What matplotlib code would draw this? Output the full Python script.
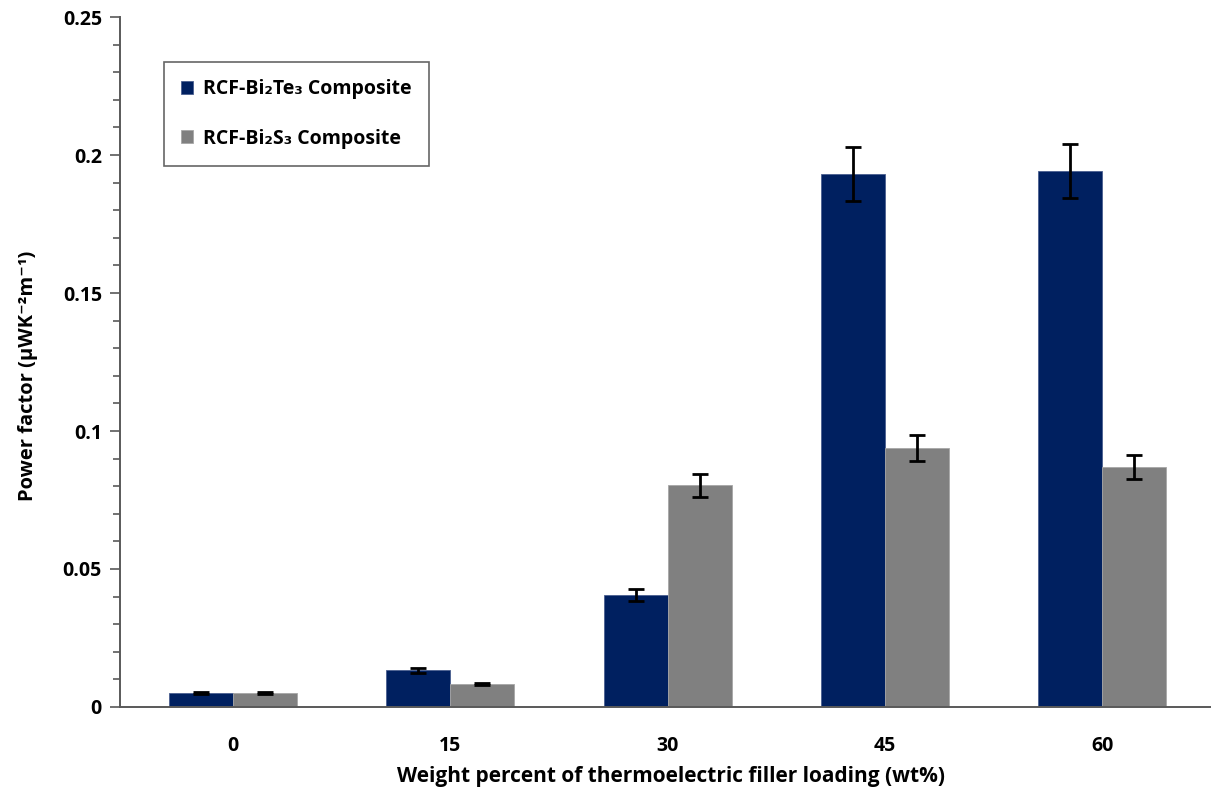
import numpy as np
import matplotlib.pyplot as plt
from matplotlib.ticker import MultipleLocator, FixedLocator

plt.rcParams["font.family"] = ["Open Sans", "DejaVu Sans"]
plt.rcParams["font.weight"] = "bold"

# Power factor vs filler loading, mean ± error for both composites
loadings = ["0", "15", "30", "45", "60"]
te_pf = [0.0050, 0.0133, 0.0406, 0.1931, 0.1942]
te_err = [0.0004, 0.0010, 0.0021, 0.0097, 0.0097]
s_pf = [0.0051, 0.0083, 0.0803, 0.0938, 0.0870]
s_err = [0.0004, 0.0005, 0.0041, 0.0047, 0.0043]

BLUE = "#002060"
GRAY = "#808080"

fig = plt.figure(figsize=(12.11, 7.91), dpi=100)
ax = fig.add_axes([0.0991, 0.1062, 0.9009, 0.8723])

x = np.arange(len(loadings))
w = 0.295
err_kw = dict(ecolor="black", elinewidth=2, capsize=5.5, capthick=2)
ax.bar(x - w / 2, te_pf, w, yerr=te_err, color=BLUE, edgecolor="#4a5f8f",
       linewidth=0.6, error_kw=err_kw, label="RCF-Bi₂Te₃ Composite")
ax.bar(x + w / 2, s_pf, w, yerr=s_err, color=GRAY, edgecolor="#a6a6a6",
       linewidth=0.6, error_kw=err_kw, label="RCF-Bi₂S₃ Composite")

ax.set_xlim(-0.52, len(loadings) - 0.5)
ax.set_ylim(0, 0.25)
ax.set_xticks(x)
ax.set_xticklabels(loadings)
ax.yaxis.set_major_locator(FixedLocator([0, 0.05, 0.1, 0.15, 0.2, 0.25]))
ax.yaxis.set_minor_locator(MultipleLocator(0.01))
ax.set_yticklabels(["0", "0.05", "0.1", "0.15", "0.2", "0.25"])

for s in ("top", "right"):
    ax.spines[s].set_visible(False)
for s in ("left", "bottom"):
    ax.spines[s].set_color("#595959")
    ax.spines[s].set_linewidth(1.4)

ax.tick_params(axis="x", length=0, pad=21, labelsize=14)
ax.tick_params(axis="y", which="major", length=7, width=1.2, color="#595959",
               labelsize=14, pad=6)
ax.tick_params(axis="y", which="minor", length=5, width=1.2, color="#595959")

ax.set_xlabel("Weight percent of thermoelectric filler loading (wt%)",
              fontsize=15, fontweight="bold")
ax.set_ylabel("Power factor (µWK⁻²m⁻¹)", fontsize=14.5, fontweight="bold")
ax.xaxis.set_label_coords(0.505, -0.085)
ax.yaxis.set_label_coords(-0.075, 0.48)

leg = ax.legend(loc="upper left", bbox_to_anchor=(0.04, 0.935), fontsize=14,
                frameon=True, fancybox=False, edgecolor="#404040",
                handlelength=0.6, handleheight=0.6, handletextpad=0.5,
                labelspacing=1.5, borderpad=0.9, borderaxespad=0)
leg.get_frame().set_linewidth(1.2)
for t in leg.get_texts():
    t.set_fontweight("bold")

fig.savefig("out.png", dpi=100)
